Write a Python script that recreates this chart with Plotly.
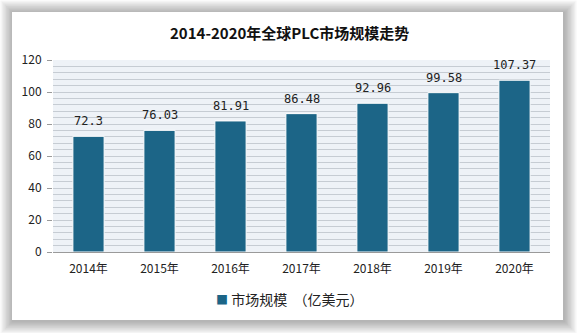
import plotly.graph_objects as go

# Global PLC market size, 2014-2020 (hundred million USD)
years = ["2014年", "2015年", "2016年", "2017年", "2018年", "2019年", "2020年"]
market_size = [72.3, 76.03, 81.91, 86.48, 92.96, 99.58, 107.37]
value_labels = ["72.3", "76.03", "81.91", "86.48", "92.96", "99.58", "107.37"]
y_ticks = [0, 20, 40, 60, 80, 100, 120]
series_name = "市场规模 （亿美元）"

W, H = 579, 333
L, R, T, B = 53, 29, 60, 81
PW, PH = W - L - R, H - T - B


def px_x(x):
    return (x - L) / PW


def px_y(y):
    return (H - B - y) / PH


CJK = "Noto Sans CJK SC"
BAR = "#1c6587"

shapes = []
# soft drop shadow around the card
for i in range(9, 0, -1):
    d = i * 1.4
    shapes.append(dict(
        type="rect", xref="paper", yref="paper", layer="below",
        x0=px_x(12 - d + 1), x1=px_x(563 + d + 1),
        y0=px_y(12 - d + 1), y1=px_y(320 + d + 1),
        fillcolor="rgba(0,0,0,0.035)", line=dict(width=0),
    ))
# white card
shapes.append(dict(
    type="rect", xref="paper", yref="paper", layer="below",
    x0=px_x(12), x1=px_x(563), y0=px_y(12), y1=px_y(320),
    fillcolor="white", line=dict(width=0),
))
# plot area fill
shapes.append(dict(
    type="rect", xref="paper", yref="paper", layer="below",
    x0=0, x1=1, y0=0, y1=1,
    fillcolor="#eef2f7", line=dict(width=0),
))

fig = go.Figure()
fig.add_trace(go.Bar(
    x=years, y=market_size, name=series_name,
    marker=dict(color=BAR, line=dict(color="white", width=1)),
    width=0.44, showlegend=False,
))

# value labels above each bar
annotations = [
    dict(x=yr, y=v, text=t, showarrow=False, xref="x", yref="y",
         yanchor="bottom", yshift=6,
         font=dict(family="DejaVu Sans Mono", size=12, color="#222"))
    for yr, v, t in zip(years, market_size, value_labels)
]
# series key under the axis
key_text = series_name.replace(" ", "&nbsp;&nbsp;")
annotations.append(dict(
    x=px_x(289), xref="paper", y=px_y(299), yref="paper",
    xanchor="center", yanchor="middle", showarrow=False,
    text=f"<span style='color:{BAR};font-size:12px'>■</span> {key_text}",
    font=dict(family=CJK, size=14, color="#222"),
))
# chart title, centred on the card
annotations.append(dict(
    x=px_x(289), xref="paper", y=px_y(32), yref="paper",
    xanchor="center", yanchor="middle", showarrow=False,
    text="<b>2014-2020年全球PLC市场规模走势</b>",
    font=dict(family=CJK, size=15, color="#111"),
))

fig.update_layout(
    width=W, height=H,
    margin=dict(l=L, r=R, t=T, b=B, pad=0),
    paper_bgcolor="white",
    plot_bgcolor="rgba(0,0,0,0)",
    shapes=shapes,
    annotations=annotations,
    bargap=0.56,
)

fig.update_xaxes(
    type="category", range=[-0.5, 6.5],
    showline=True, linecolor="#9a9a9a", linewidth=1,
    showgrid=False, ticks="",
    tickfont=dict(family=CJK, size=12, color="#222"),
    ticklabelstandoff=6,
)
fig.update_yaxes(
    range=[0, 120], tickvals=y_ticks,
    showgrid=True, gridcolor="#c6ccd3", gridwidth=1,
    minor=dict(dtick=4, showgrid=True, gridcolor="#c6ccd3", gridwidth=1),
    ticks="outside", ticklen=5, tickcolor="#9a9a9a",
    zeroline=False,
    tickfont=dict(family=CJK, size=12, color="#222"),
    ticklabelstandoff=3,
)

fig.write_html("out.html")
